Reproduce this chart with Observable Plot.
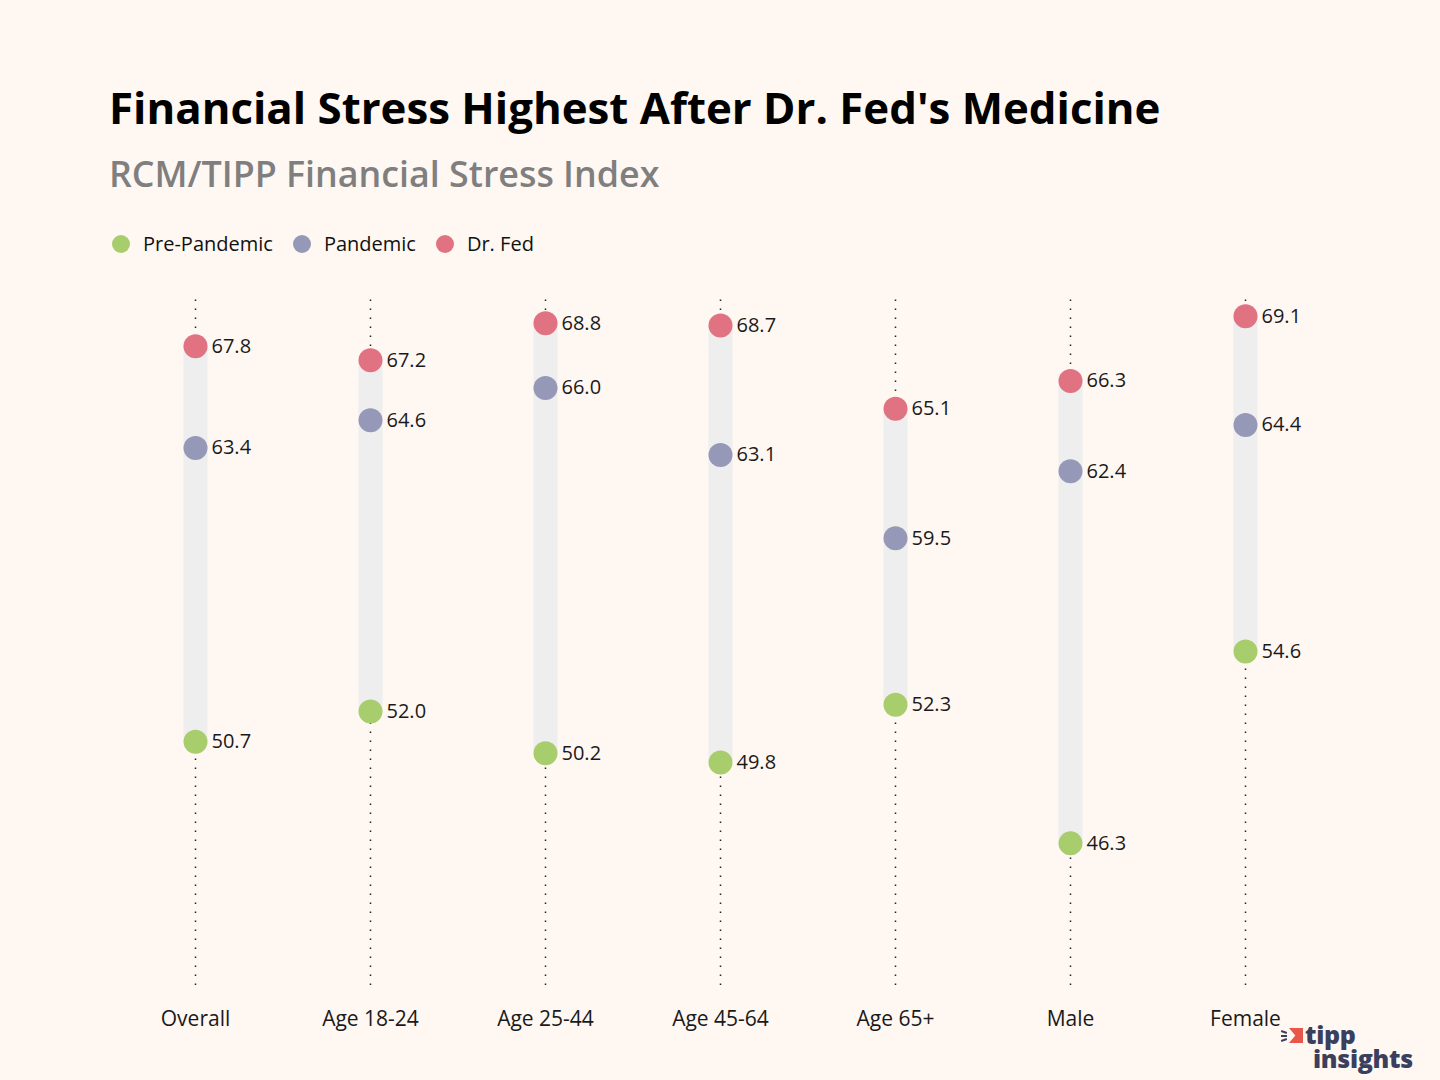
<!DOCTYPE html>
<html>
<head>
<meta charset="utf-8">
<script src="https://cdn.jsdelivr.net/npm/d3@7"></script>
<script src="https://cdn.jsdelivr.net/npm/@observablehq/plot@0.6"></script>
<style>
  html, body { margin: 0; padding: 0; background: #fff7f2; }
  body { width: 1440px; height: 1080px; position: relative; overflow: hidden; font-family: "Open Sans", sans-serif; }
  #title { position: absolute; left: 109px; top: 86px; font-size: 43.8px; font-weight: 700; color: #000; line-height: 1; white-space: nowrap; }
  #subtitle { position: absolute; left: 109px; top: 156px; font-size: 35.8px; font-weight: 600; color: #7f7f7f; line-height: 1; white-space: nowrap; }
  #legend { position: absolute; left: 112px; top: 232px; display: flex; align-items: center; font-size: 20px; color: #111; line-height: 24px; }
  #legend .item { display: flex; align-items: center; margin-right: 20px; }
  #legend .sw { width: 18px; height: 18px; border-radius: 50%; margin-right: 13px; }
  #chart { position: absolute; left: 0; top: 280px; }
  #logo { position: absolute; left: 1305px; top: 1024px; font-family: "Open Sans", sans-serif; font-weight: 800; color: #3b3f5e; line-height: 20px; font-size: 25px; letter-spacing: -0.3px; white-space: nowrap; }
  #logo .ins { display: block; margin-left: 8px; position: relative; top: 4px; }
  #mark { position: absolute; left: 1289px; top: 1028px; width: 14px; height: 15px; background: #e8584a; clip-path: polygon(0 0, 100% 0, 100% 100%, 0 100%, 45% 50%); }
  .tick { position: absolute; height: 2px; background: #3b3f5e; width: 6px; }
</style>
</head>
<body>
<div id="title">Financial Stress Highest After Dr. Fed's Medicine</div>
<div id="subtitle">RCM/TIPP Financial Stress Index</div>
<div id="legend"></div>
<div id="chart"></div>
<div id="mark"></div>
<div class="tick" style="left:1281px; top:1031px; transform: rotate(20deg);"></div>
<div class="tick" style="left:1281px; top:1035px;"></div>
<div class="tick" style="left:1281px; top:1039px; transform: rotate(-20deg);"></div>
<div id="logo">tipp<span class="ins">insights</span></div>
<script>
const categories = ["Overall", "Age 18-24", "Age 25-44", "Age 45-64", "Age 65+", "Male", "Female"];
const prePandemic = [50.7, 52.0, 50.2, 49.8, 52.3, 46.3, 54.6];
const pandemic = [63.4, 64.6, 66.0, 63.1, 59.5, 62.4, 64.4];
const drFed = [67.8, 67.2, 68.8, 68.7, 65.1, 66.3, 69.1];
const seriesNames = ["Pre-Pandemic", "Pandemic", "Dr. Fed"];
const seriesColors = ["#a7cd6c", "#9598b6", "#e07282"];

const seriesValues = [prePandemic, pandemic, drFed];
const points = [];
seriesValues.forEach((vals, s) => vals.forEach((v, i) => points.push({cat: categories[i], series: seriesNames[s], value: v})));
const ranges = categories.map((c, i) => ({
  cat: c,
  lo: Math.min(prePandemic[i], pandemic[i], drFed[i]),
  hi: Math.max(prePandemic[i], pandemic[i], drFed[i])
}));

const legend = document.getElementById("legend");
seriesNames.forEach((n, i) => {
  const it = document.createElement("div");
  it.className = "item";
  it.innerHTML = `<span class="sw" style="background:${seriesColors[i]}"></span><span>${n}</span>`;
  legend.appendChild(it);
});

const chart = Plot.plot({
  width: 1440,
  height: 780,
  marginLeft: 195,
  marginRight: 195,
  marginTop: 15,
  marginBottom: 71.5,
  style: {background: "transparent", fontFamily: "Open Sans, sans-serif"},
  x: {type: "point", domain: categories, padding: 0, label: null},
  y: {domain: [40, 70], axis: null},
  color: {domain: seriesNames, range: seriesColors},
  marks: [
    Plot.ruleX(categories, {x: d => d, y1: 40.15, y2: 70, stroke: "#222", strokeWidth: 1.5, strokeDasharray: "1.5,7.5"}),
    Plot.ruleX(ranges, {x: "cat", y1: "lo", y2: "hi", stroke: "#eeeeee", strokeWidth: 24, strokeLinecap: "butt"}),
    Plot.dot(points, {x: "cat", y: "value", fill: "series", r: 12}),
    Plot.text(points, {x: "cat", y: "value", text: d => d.value.toFixed(1), dx: 16, textAnchor: "start", fontSize: 20, fill: "#1a1a1a"}),
    Plot.axisX({tickSize: 0, tickPadding: 22, fontSize: 21, fill: "#1a1a1a", label: null})
  ]
});
document.getElementById("chart").appendChild(chart);
</script>
</body>
</html>
